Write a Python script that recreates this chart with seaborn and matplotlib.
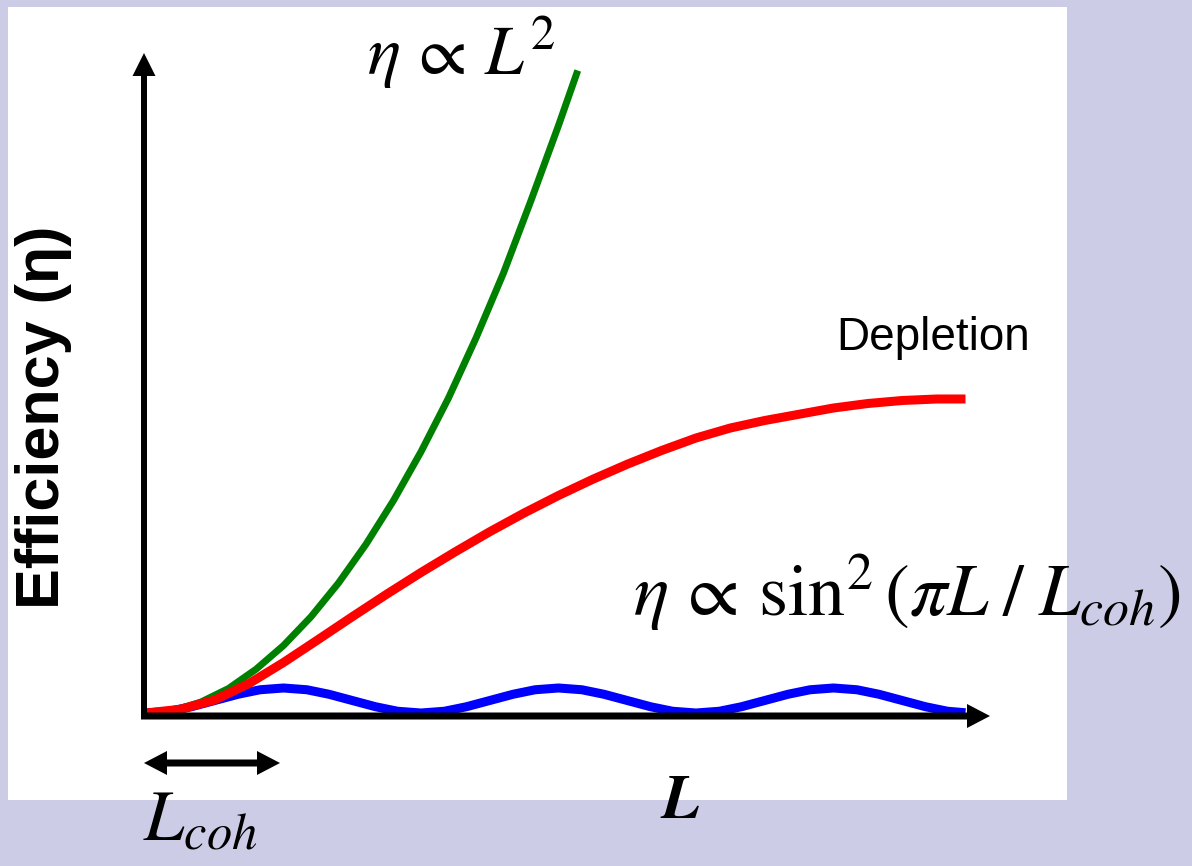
import matplotlib
matplotlib.use("Agg")
import numpy as np
import pandas as pd
import seaborn as sns
import matplotlib.pyplot as plt
from matplotlib.patches import Rectangle

# ---------------- data (L in units of L_coh, efficiency in arbitrary units) -------------
green_L = [0.0, 0.2, 0.4, 0.6, 0.8, 1.0, 1.2, 1.4, 1.6, 1.8, 2.0, 2.2, 2.4, 2.6, 2.8, 3.0, 3.14]
green_eta = [0.0, 0.1, 0.44, 0.98, 1.75, 2.7, 3.85, 5.2, 6.75, 8.5, 10.45, 12.6, 15.0, 17.6,
             20.5, 23.5, 25.7]

red_L = [0.0, 0.25, 0.5, 0.75, 1.0, 1.25, 1.5, 1.75, 2.0, 2.25, 2.5, 2.75, 3.0, 3.25,
         3.5, 3.75, 4.0, 4.25, 4.5, 4.75, 5.0, 5.25, 5.5, 5.75, 5.96]
red_eta = [0.0, 0.15, 0.52, 1.18, 2.02, 2.93, 3.85, 4.75, 5.62, 6.45, 7.25, 8.0, 8.7, 9.35,
           9.95, 10.5, 11.0, 11.4, 11.7, 11.95, 12.2, 12.38, 12.5, 12.56, 12.56]

blue_L = [0.0, 0.17, 0.33, 0.5, 0.67, 0.83, 1.0, 1.17, 1.33, 1.5, 1.67, 1.83,
          2.0, 2.17, 2.33, 2.5, 2.67, 2.83, 3.0, 3.17, 3.33, 3.5, 3.67, 3.83,
          4.0, 4.17, 4.33, 4.5, 4.67, 4.83, 5.0, 5.17, 5.33, 5.5, 5.67, 5.83, 5.96]
blue_eta = [0.0, 0.07, 0.25, 0.5, 0.75, 0.93, 1.0, 0.93, 0.75, 0.5, 0.25, 0.07,
            0.0, 0.07, 0.25, 0.5, 0.75, 0.93, 1.0, 0.93, 0.75, 0.5, 0.25, 0.07,
            0.0, 0.07, 0.25, 0.5, 0.75, 0.93, 1.0, 0.93, 0.75, 0.5, 0.25, 0.07, 0.01]

# ---------------- style -------------
sns.set_theme(style="white")
plt.rcParams["font.family"] = ["Liberation Sans", "DejaVu Sans"]
plt.rcParams["mathtext.fontset"] = "stix"

W, H = 1192, 866
BG = "#CCCCE6"
fig = plt.figure(figsize=(W / 100, H / 100), dpi=100, facecolor=BG)
fig.patches.append(Rectangle((8 / W, 1 - 800 / H), 1059 / W, 793 / H,
                             transform=fig.transFigure, facecolor="white",
                             edgecolor="none", zorder=-5))

ax = fig.add_axes([0, 0, 1, 1])
ax.set_axis_off()
X0, Y0, SX, SY = 146, 713, 137.5, 25.0   # pixel origin and pixel-per-unit scales
ax.set_xlim(-X0 / SX, (W - X0) / SX)
ax.set_ylim((Y0 - H) / SY, Y0 / SY)

df_b = pd.DataFrame({"L": blue_L, "eta": blue_eta})
df_g = pd.DataFrame({"L": green_L, "eta": green_eta})
df_r = pd.DataFrame({"L": red_L, "eta": red_eta})
sns.lineplot(data=df_b, x="L", y="eta", ax=ax, color="#0000FF", lw=6.5,
             solid_capstyle="butt", solid_joinstyle="round", zorder=3)
sns.lineplot(data=df_g, x="L", y="eta", ax=ax, color="#008000", lw=5.0,
             solid_capstyle="butt", solid_joinstyle="round", zorder=4)
sns.lineplot(data=df_r, x="L", y="eta", ax=ax, color="#FF0000", lw=6.5,
             solid_capstyle="butt", solid_joinstyle="round", zorder=5)
ax.set_axis_off()

# axis arrows
ax.arrow(-2 / SX, -6 / SY, 0, (719 - 53) / SY, width=6 / SX, head_width=23 / SX,
         head_length=23 / SY, length_includes_head=True, fc="black", ec="none", zorder=6)
ax.arrow(-5 / SX, -3 / SY, (990 - 141) / SX, 0, width=7 / SY, head_width=24 / SY,
         head_length=23 / SX, length_includes_head=True, fc="black", ec="none", zorder=6)
# coherence length double arrow
ym = (Y0 - 763) / SY
xm = (212 - X0) / SX
for xe in [(144 - X0) / SX, (280 - X0) / SX]:
    ax.arrow(xm, ym, xe - xm, 0, width=7 / SY, head_width=24 / SY,
             head_length=23 / SX, length_includes_head=True, fc="black", ec="none", zorder=6)


def fx(px):
    return px / W


def fy(py):
    return 1 - py / H


fig.text(fx(44), fy(417), "Efficiency (η)", rotation=90, ha="center", va="center",
         fontsize=44, fontweight="bold", color="black")
fig.text(fx(367), fy(75), r"$\eta\,\propto\,L^2$", ha="left", va="baseline",
         fontsize=50, color="black")
fig.text(fx(836), fy(350), "Depletion", ha="left", va="baseline", fontsize=33, color="black")
fig.text(fx(633), fy(617), r"$\eta\,\propto\,\mathrm{sin}^2\,(\pi L\;/\;L_{coh})$",
         ha="left", va="baseline", fontsize=53.5, color="black")
fig.text(fx(143), fy(840), r"$L_{coh}$", ha="left", va="baseline", fontsize=52, color="black")
fig.text(fx(681), fy(818), "L", ha="center", va="baseline", fontsize=45,
         fontfamily="STIXGeneral", fontstyle="italic", fontweight="bold", color="black")

fig.savefig("out.png", dpi=100, facecolor=BG)
